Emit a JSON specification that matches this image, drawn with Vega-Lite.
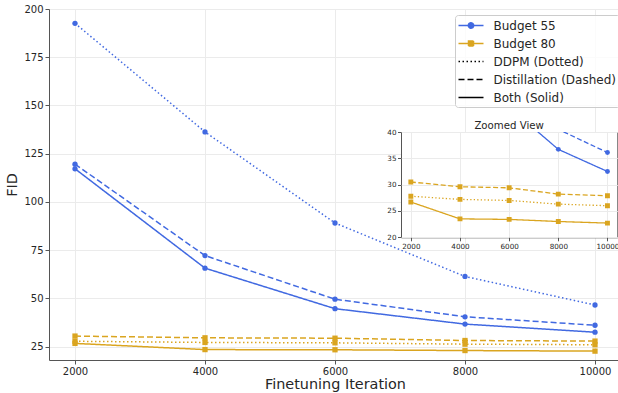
{
  "$schema": "https://vega.github.io/schema/vega-lite/v6.json",
  "padding": {"left": 4, "top": 4, "right": 0, "bottom": 4},
  "bounds": "flush",
  "spacing": 0,
  "datasets": {
    "d": [
      {"budget": "Budget 55", "method": "DDPM (Dotted)", "iter": 2000, "fid": 192.6},
      {"budget": "Budget 55", "method": "DDPM (Dotted)", "iter": 4000, "fid": 136.3},
      {"budget": "Budget 55", "method": "DDPM (Dotted)", "iter": 6000, "fid": 89.1},
      {"budget": "Budget 55", "method": "DDPM (Dotted)", "iter": 8000, "fid": 61.4},
      {"budget": "Budget 55", "method": "DDPM (Dotted)", "iter": 10000, "fid": 46.6},
      {"budget": "Budget 55", "method": "Distillation (Dashed)", "iter": 2000, "fid": 119.6},
      {"budget": "Budget 55", "method": "Distillation (Dashed)", "iter": 4000, "fid": 72.2},
      {"budget": "Budget 55", "method": "Distillation (Dashed)", "iter": 6000, "fid": 49.6},
      {"budget": "Budget 55", "method": "Distillation (Dashed)", "iter": 8000, "fid": 40.5},
      {"budget": "Budget 55", "method": "Distillation (Dashed)", "iter": 10000, "fid": 36.1},
      {"budget": "Budget 55", "method": "Both (Solid)", "iter": 2000, "fid": 117.2},
      {"budget": "Budget 55", "method": "Both (Solid)", "iter": 4000, "fid": 65.7},
      {"budget": "Budget 55", "method": "Both (Solid)", "iter": 6000, "fid": 44.7},
      {"budget": "Budget 55", "method": "Both (Solid)", "iter": 8000, "fid": 36.7},
      {"budget": "Budget 55", "method": "Both (Solid)", "iter": 10000, "fid": 32.5},
      {"budget": "Budget 80", "method": "DDPM (Dotted)", "iter": 2000, "fid": 27.8},
      {"budget": "Budget 80", "method": "DDPM (Dotted)", "iter": 4000, "fid": 27.2},
      {"budget": "Budget 80", "method": "DDPM (Dotted)", "iter": 6000, "fid": 27.0},
      {"budget": "Budget 80", "method": "DDPM (Dotted)", "iter": 8000, "fid": 26.3},
      {"budget": "Budget 80", "method": "DDPM (Dotted)", "iter": 10000, "fid": 26.0},
      {"budget": "Budget 80", "method": "Distillation (Dashed)", "iter": 2000, "fid": 30.5},
      {"budget": "Budget 80", "method": "Distillation (Dashed)", "iter": 4000, "fid": 29.6},
      {"budget": "Budget 80", "method": "Distillation (Dashed)", "iter": 6000, "fid": 29.4},
      {"budget": "Budget 80", "method": "Distillation (Dashed)", "iter": 8000, "fid": 28.2},
      {"budget": "Budget 80", "method": "Distillation (Dashed)", "iter": 10000, "fid": 27.9},
      {"budget": "Budget 80", "method": "Both (Solid)", "iter": 2000, "fid": 26.7},
      {"budget": "Budget 80", "method": "Both (Solid)", "iter": 4000, "fid": 23.5},
      {"budget": "Budget 80", "method": "Both (Solid)", "iter": 6000, "fid": 23.4},
      {"budget": "Budget 80", "method": "Both (Solid)", "iter": 8000, "fid": 23.0},
      {"budget": "Budget 80", "method": "Both (Solid)", "iter": 10000, "fid": 22.7}
    ]
  },
  "config": {
    "font": "DejaVu Sans",
    "view": {"stroke": null},
    "axis": {
      "labelFont": "DejaVu Sans", "titleFont": "DejaVu Sans",
      "labelColor": "#262626", "titleColor": "#262626",
      "domainColor": "#555555", "tickColor": "#555555",
      "gridColor": "#ebebeb", "titleFontWeight": "normal", "labelFlush": false
    },
    "legend": {
      "labelFont": "DejaVu Sans", "labelFontSize": 12, "labelColor": "#262626",
      "padding": 3.5, "strokeColor": "#cccccc", "fillColor": "rgba(255,255,255,0.8)",
      "cornerRadius": 3, "rowPadding": 5, "labelOffset": 15.5, "symbolOffset": 5.5
    }
  },
  "resolve": {"scale": {"color": "independent", "strokeDash": "independent", "shape": "independent"}},
  "hconcat": [
    {
      "width": 352,
      "height": 351,
      "data": {"name": "d"},
      "encoding": {
        "x": {"field": "iter", "type": "quantitative",
          "scale": {"domain": [1600, 10400], "range": [0, 572], "nice": false, "zero": false},
          "axis": {"title": "Finetuning Iteration", "titleX": 286, "values": [2000, 4000, 6000, 8000, 10000], "format": "d",
            "labelFontSize": 10, "titleFontSize": 14.4, "tickSize": 4, "labelPadding": 2, "titlePadding": 1.5, "grid": true}},
        "y": {"field": "fid", "type": "quantitative",
          "scale": {"domain": [18.1, 200], "nice": false, "zero": false},
          "axis": {"title": "FID", "values": [25, 50, 75, 100, 125, 150, 175, 200],
            "labelFontSize": 10, "titleFontSize": 14.4, "tickSize": 4, "labelPadding": 2, "titlePadding": 4, "grid": true}},
        "color": {"field": "budget", "type": "nominal",
          "scale": {"domain": ["Budget 55", "Budget 80"], "range": ["#4169E1", "#DAA520"]}, "legend": null}
      },
      "layer": [
        {
          "mark": {"type": "line", "strokeWidth": 1.5},
          "encoding": {
            "strokeDash": {"field": "method", "type": "nominal",
              "scale": {"domain": ["Budget 55", "Budget 80", "DDPM (Dotted)", "Distillation (Dashed)", "Both (Solid)"],
                "range": [[1, 0], [1, 0], [1.5, 2.5], [6, 3], [1, 0]]},
              "legend": {
                "title": null, "orient": "none", "legendX": 406, "legendY": 6,
                "symbolType": "stroke", "symbolSize": 156.25, "symbolStrokeWidth": 1.5,
                "encode": {
                  "symbols": {
                    "update": {
                      "shape": {"signal": "datum.value === 'Budget 55' ? 'M-2,0H2M0.43,0A0.43,0.43,0,1,1,-0.43,0A0.43,0.43,0,1,1,0.43,0Z' : datum.value === 'Budget 80' ? 'M-2,0H2M-0.4,-0.4H0.4V0.4H-0.4Z' : 'M-2,0H2'"},
                      "stroke": {"signal": "datum.value === 'Budget 55' ? '#4169E1' : datum.value === 'Budget 80' ? '#DAA520' : 'black'"},
                      "fill": {"signal": "datum.value === 'Budget 55' ? '#4169E1' : datum.value === 'Budget 80' ? '#DAA520' : 'transparent'"},
                      "strokeWidth": {"value": 1.5},
                      "size": {"value": 156.25},
                      "opacity": {"value": 1}
                    }
                  }
                }
              }
            }
          }
        },
        {
          "mark": {"type": "point", "filled": true, "opacity": 1, "size": 28},
          "encoding": {
            "shape": {"field": "budget", "type": "nominal",
              "scale": {"domain": ["Budget 55", "Budget 80"], "range": ["circle", "square"]}, "legend": null}
          }
        }
      ]
    },
    {
      "bounds": "flush",
      "spacing": 0,
      "resolve": {"scale": {"color": "independent", "strokeDash": "independent", "shape": "independent"}},
      "vconcat": [
        {
          "width": 216,
          "height": 122.7,
          "data": {"values": []},
          "mark": {"type": "point", "opacity": 0},
          "encoding": {}
        },
        {
          "width": 216.3,
          "height": 105.3,
          "title": {"text": "Zoomed View", "fontSize": 10.2, "fontWeight": "normal", "offset": -3, "color": "#262626", "font": "DejaVu Sans", "anchor": "middle"},
          "view": {"fill": "white", "stroke": "#555555", "strokeWidth": 1},
          "data": {"name": "d"},
          "encoding": {
            "x": {"field": "iter", "type": "quantitative",
              "scale": {"domain": [1600, 10400], "nice": false, "zero": false},
              "axis": {"title": null, "values": [2000, 4000, 6000, 8000, 10000], "format": "d",
                "labelFontSize": 7.2, "tickSize": 3.5, "labelPadding": 1.5, "grid": true, "domain": false}},
            "y": {"field": "fid", "type": "quantitative",
              "scale": {"domain": [20, 40], "nice": false, "zero": false},
              "axis": {"title": null, "values": [20, 25, 30, 35, 40],
                "labelFontSize": 7.2, "tickSize": 3.5, "labelPadding": 1.5, "grid": true, "domain": false}},
            "color": {"field": "budget", "type": "nominal",
              "scale": {"domain": ["Budget 55", "Budget 80"], "range": ["#4169E1", "#DAA520"]}, "legend": null}
          },
          "layer": [
            {
              "mark": {"type": "line", "strokeWidth": 1.3, "clip": true},
              "encoding": {
                "strokeDash": {"field": "method", "type": "nominal",
                  "scale": {"domain": ["DDPM (Dotted)", "Distillation (Dashed)", "Both (Solid)"],
                    "range": [[1.3, 2.2], [5, 2.5], [1, 0]]},
                  "legend": null}
              }
            },
            {
              "mark": {"type": "point", "filled": true, "opacity": 1, "size": 24, "clip": true},
              "encoding": {
                "shape": {"field": "budget", "type": "nominal",
                  "scale": {"domain": ["Budget 55", "Budget 80"], "range": ["circle", "square"]}, "legend": null}
              }
            }
          ]
        }
      ]
    }
  ]
}
